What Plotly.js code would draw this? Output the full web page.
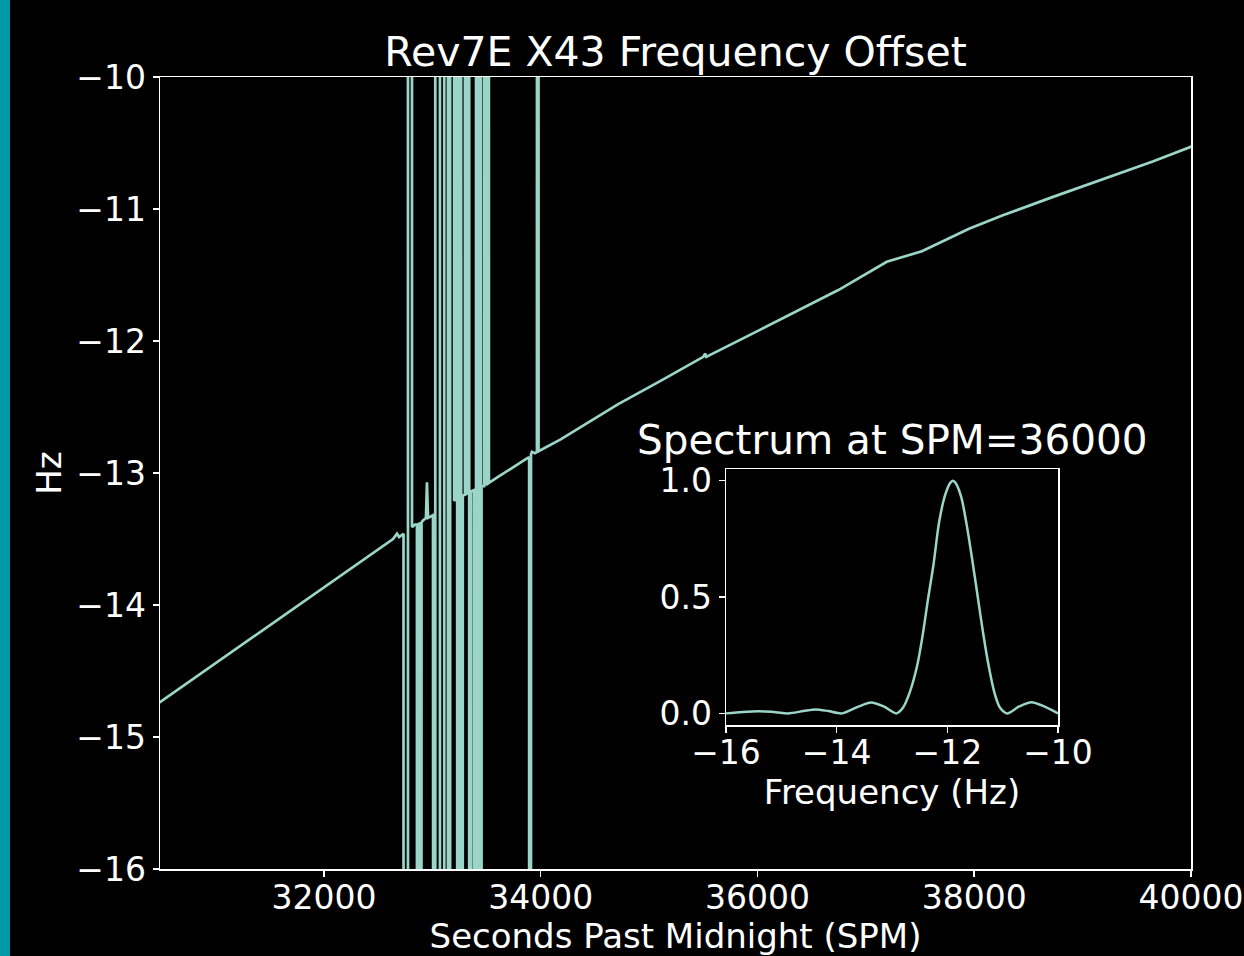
<!DOCTYPE html>
<html>
<head>
<meta charset="utf-8">
<script src="https://cdn.plot.ly/plotly-3.0.1.min.js"></script>
<style>
  html, body { margin: 0; padding: 0; background: #000; }
  #wrap { position: relative; width: 1244px; height: 956px; }
  #strip { position: absolute; left: 0; top: 0; width: 10px; height: 956px; background: #0099a8; z-index: 5; }
  #chart { position: absolute; left: 0; top: 0; width: 1244px; height: 956px; }
</style>
</head>
<body>
<div id="wrap"><div id="strip"></div><div id="chart"></div></div>
<script>
// Main series: frequency offset (Hz) vs seconds past midnight, outliers included
const spm = [
  30480, 31249, 31656, 32026, 32332, 32637, 32674, 32693, 32701, 32720,
  32734, 32734, 32775, 32775, 32812, 32812, 32840, 32858, 32858, 32875,
  32875, 32890, 32890, 32900, 32900, 32914, 32941, 32950, 32960, 33006,
  33027, 33027, 33070, 33070, 33110, 33110, 33144, 33144, 33164, 33164,
  33201, 33201, 33210, 33218, 33218, 33236, 33255, 33273, 33281, 33301,
  33301, 33310, 33324, 33340, 33340, 33356, 33356, 33370, 33384, 33384,
  33403, 33403, 33421, 33421, 33439, 33439, 33454, 33454, 33478, 33478,
  33497, 33497, 33513, 33513, 33522, 33532, 33624, 33873, 33893, 33893,
  33910, 33910, 33919, 33947, 33965, 33971, 33980, 34184, 34711, 35110,
  35500, 35517, 35527, 36036, 36526, 36746, 37193, 37517, 37952, 38258,
  38721, 39184, 39647, 40027
];
const hz = [
  -14.74, -14.30, -14.065, -13.855, -13.68, -13.50, -13.46, -13.485, -13.48, -13.47,
  -13.46, -60, -60, 60, 60, -13.41, -13.39, -13.39, -60, -60,
  -13.385, -13.38, -60, -60, -13.375, -13.36, -13.34, -13.07, -13.34, -13.32,
  -60, 60, 60, -60, -60, 60, 60, -60, -60, 60,
  60, -13.21, -13.205, -13.20, 60, -60, 60, -60, -13.17, -13.165,
  60, -13.16, -13.155, 60, -60, -60, -13.14, -13.135, -13.13, -60,
  -60, 60, 60, -60, -60, 60, -60, -13.10, -13.10, 60,
  60, -13.09, -13.08, 60, -13.075, -13.07, -13.02, -12.89, -12.88, -60,
  -60, -12.86, -12.84, -12.85, -12.84, 60, -12.835, -12.745, -12.48, -12.30,
  -12.12, -12.095, -12.12, -11.91, -11.71, -11.614, -11.40, -11.32, -11.15, -11.05,
  -10.91, -10.775, -10.64, -10.52
];

// Inset: spectrum at SPM = 36000
const freqHz = [
  -16.0, -15.7, -15.4, -15.1, -14.88, -14.6, -14.38, -14.15, -13.9, -13.6,
  -13.38, -13.15, -12.92, -12.8, -12.68, -12.55, -12.45, -12.35, -12.25, -12.15,
  -12.05, -11.95, -11.9, -11.85, -11.75, -11.65, -11.55, -11.45, -11.35, -11.25,
  -11.15, -11.05, -10.92, -10.7, -10.48, -10.25, -10.0
];
const power = [
  0.000, 0.006, 0.009, 0.005, 0.000, 0.010, 0.017, 0.010, 0.000, 0.030,
  0.047, 0.030, 0.000, 0.025, 0.090, 0.20, 0.33, 0.49, 0.64, 0.82,
  0.93, 0.99, 1.00, 0.99, 0.93, 0.81, 0.66, 0.50, 0.34, 0.20,
  0.09, 0.025, 0.000, 0.030, 0.048, 0.030, 0.000
];

const mainTicks = [32000, 34000, 36000, 38000, 40000];
const hzTicks = [-16, -15, -14, -13, -12, -11, -10];
const insetXTicks = [-16, -14, -12, -10];
const insetYTicks = [0, 0.5, 1.0];

const lineColor = '#9ad5c8';
const font = 'DejaVu Sans, Verdana, sans-serif';

const traces = [
  { x: spm, y: hz, type: 'scatter', mode: 'lines', xaxis: 'x', yaxis: 'y',
    line: { color: lineColor, width: 2.7 }, hoverinfo: 'skip' },
  { x: freqHz, y: power, type: 'scatter', mode: 'lines', xaxis: 'x2', yaxis: 'y2',
    line: { color: lineColor, width: 2.5, shape: 'spline', smoothing: 0.8 }, hoverinfo: 'skip' }
];

const axisStyle = {
  showline: true, linecolor: '#ffffff', linewidth: 1.5, mirror: true,
  ticks: 'outside', ticklen: 6, tickwidth: 1.5, tickcolor: '#ffffff',
  showgrid: false, zeroline: false, automargin: false,
  tickfont: { size: 33, color: '#ffffff', family: font }
};

const layout = {
  width: 1244, height: 956,
  paper_bgcolor: '#000000', plot_bgcolor: '#000000',
  margin: { l: 160, r: 53, t: 77, b: 87, pad: 0 },
  showlegend: false,
  font: { family: font, color: '#ffffff' },
  title: { text: 'Rev7E X43 Frequency Offset', font: { size: 41, color: '#ffffff', family: font },
           x: 0.5, xref: 'paper', xanchor: 'center', y: 1, yref: 'paper', yanchor: 'bottom', pad: { b: 11 } },
  xaxis: Object.assign({}, axisStyle, {
    domain: [0, 1], anchor: 'y', range: [30487, 40000],
    tickvals: mainTicks, ticktext: mainTicks.map(String), ticklabelstandoff: -7,
    title: { text: 'Seconds Past Midnight (SPM)', font: { size: 34, color: '#ffffff', family: font }, standoff: 6 }
  }),
  yaxis: Object.assign({}, axisStyle, {
    domain: [0, 1], anchor: 'x', range: [-16, -10],
    tickvals: hzTicks,
    title: { text: 'Hz', font: { size: 34, color: '#ffffff', family: font }, standoff: 4 }
  }),
  xaxis2: Object.assign({}, axisStyle, {
    domain: [0.549, 0.871], anchor: 'y2', range: [-16, -10],
    tickvals: insetXTicks, ticklabelstandoff: -8,
    title: { text: 'Frequency (Hz)', font: { size: 34, color: '#ffffff', family: font }, standoff: 4 }
  }),
  yaxis2: Object.assign({}, axisStyle, {
    domain: [0.1818, 0.505], anchor: 'x2', range: [-0.05, 1.05],
    tickvals: insetYTicks, tickformat: '.1f'
  }),
  annotations: [{
    text: 'Spectrum at SPM=36000', xref: 'paper', yref: 'paper',
    x: 0.71, y: 0.505, xanchor: 'center', yanchor: 'bottom', yshift: 3,
    showarrow: false, font: { size: 40.5, color: '#ffffff', family: font }
  }]
};

Plotly.newPlot('chart', traces, layout, { staticPlot: true, displayModeBar: false });
</script>
</body>
</html>
